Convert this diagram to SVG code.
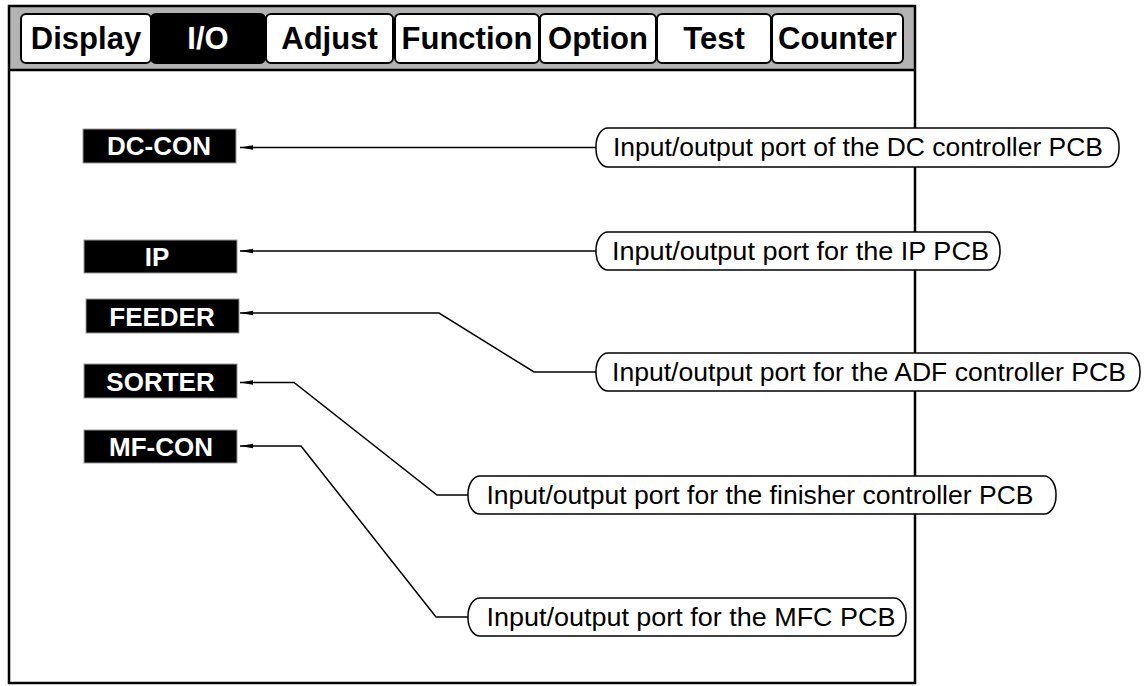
<svg xmlns="http://www.w3.org/2000/svg" width="1144" height="686" viewBox="0 0 1144 686">
<style>
.tab{fill:#fff;stroke:#000;stroke-width:2}
.tabt{font-family:"Liberation Sans",Arial,sans-serif;font-weight:bold;font-size:31px;text-anchor:middle;fill:#000}
.lbl{fill:#000;stroke:#999;stroke-width:1}
.lblt{font-family:"Liberation Sans",Arial,sans-serif;font-weight:bold;font-size:26px;text-anchor:middle;fill:#fff}
.call{fill:#fff;stroke:#000;stroke-width:1.5}
.callt{font-family:"Liberation Sans",Arial,sans-serif;font-size:25px;fill:#000}
.conn{fill:none;stroke:#000;stroke-width:1.5}
</style>
<defs>
<marker id="ah" markerUnits="userSpaceOnUse" markerWidth="14" markerHeight="6" refX="13" refY="3" orient="auto">
<path d="M0,0.8 L13,3 L0,5.2 z" fill="#000"/>
</marker>
</defs>
<rect width="1144" height="686" fill="#fff"/>
<g id="frame">
<rect x="9" y="6" width="906" height="64" fill="#b3b3b3"/>
<rect x="9" y="6" width="906" height="677" fill="none" stroke="#000" stroke-width="2.5"/>
<line x1="9" y1="70" x2="915" y2="70" stroke="#000" stroke-width="2.5"/>
</g>
<g id="tabs">
<g id="tab-display"><rect class="tab" x="21" y="14" width="130" height="49" rx="5"/><text class="tabt" x="86" y="49">Display</text></g>
<g id="tab-io"><rect x="151" y="14" width="114" height="49" rx="5" fill="#000" stroke="#000" stroke-width="2"/><text class="tabt" x="208" y="49" style="fill:#fff">I/O</text></g>
<g id="tab-adjust"><rect class="tab" x="266" y="14" width="127" height="49" rx="5"/><text class="tabt" x="329.5" y="49">Adjust</text></g>
<g id="tab-function"><rect class="tab" x="395" y="14" width="144" height="49" rx="5"/><text class="tabt" x="467" y="49">Function</text></g>
<g id="tab-option"><rect class="tab" x="540" y="14" width="116" height="49" rx="5"/><text class="tabt" x="598" y="49">Option</text></g>
<g id="tab-test"><rect class="tab" x="657" y="14" width="114" height="49" rx="5"/><text class="tabt" x="714" y="49">Test</text></g>
<g id="tab-counter"><rect class="tab" x="772" y="14" width="131" height="49" rx="5"/><text class="tabt" x="837.5" y="49">Counter</text></g>
</g>
<g id="connectors">
<polyline class="conn" points="596,147.5 240,147.5" marker-end="url(#ah)"/>
<polyline class="conn" points="596,251 240,251" marker-end="url(#ah)"/>
<polyline class="conn" points="596,372 534,372 439,313 240,313" marker-end="url(#ah)"/>
<polyline class="conn" points="468,495 437,495 294,382.5 240,382.5" marker-end="url(#ah)"/>
<polyline class="conn" points="468,617 436,617 301,446 240,446" marker-end="url(#ah)"/>
</g>
<g id="dc-con"><rect class="lbl" x="83" y="129" width="153" height="34"/><text class="lblt" x="159" y="155">DC-CON</text></g>
<g id="ip"><rect class="lbl" x="84" y="240" width="153" height="33"/><text class="lblt" x="157" y="265.5">IP</text></g>
<g id="feeder"><rect class="lbl" x="86" y="299" width="153" height="34"/><text class="lblt" x="162" y="325.5">FEEDER</text></g>
<g id="sorter"><rect class="lbl" x="84" y="364" width="153" height="34"/><text class="lblt" x="160.5" y="390.5">SORTER</text></g>
<g id="mf-con"><rect class="lbl" x="84" y="430" width="153" height="33"/><text class="lblt" x="161" y="456">MF-CON</text></g>
<g id="call-dc"><rect class="call" x="596" y="128" width="523" height="39" rx="12" ry="18"/><text class="callt" x="613" y="156" textLength="490" lengthAdjust="spacingAndGlyphs">Input/output port of the DC controller PCB</text></g>
<g id="call-ip"><rect class="call" x="596" y="232" width="404" height="38" rx="12" ry="18"/><text class="callt" x="612" y="259.5" textLength="377" lengthAdjust="spacingAndGlyphs">Input/output port for the IP PCB</text></g>
<g id="call-adf"><rect class="call" x="596" y="353" width="544" height="38" rx="12" ry="18"/><text class="callt" x="612" y="380.5" textLength="514" lengthAdjust="spacingAndGlyphs">Input/output port for the ADF controller PCB</text></g>
<g id="call-fin"><rect class="call" x="468" y="476" width="588" height="38" rx="12" ry="18"/><text class="callt" x="486.5" y="503.5" textLength="547" lengthAdjust="spacingAndGlyphs">Input/output port for the finisher controller PCB</text></g>
<g id="call-mfc"><rect class="call" x="468" y="598" width="438" height="38" rx="12" ry="18"/><text class="callt" x="486.5" y="625.5" textLength="409" lengthAdjust="spacingAndGlyphs">Input/output port for the MFC PCB</text></g>
</svg>
